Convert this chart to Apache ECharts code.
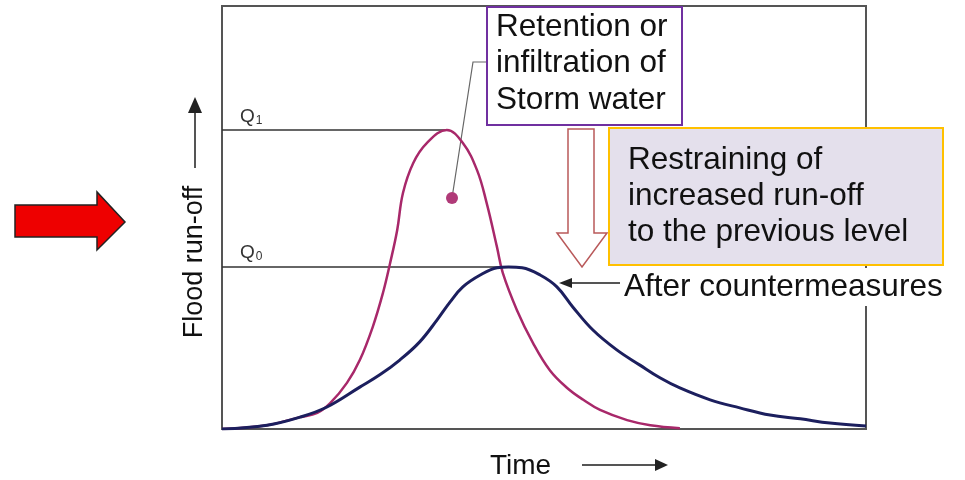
<!DOCTYPE html>
<html>
<head>
<meta charset="utf-8">
<script src="https://cdn.jsdelivr.net/npm/echarts@6/dist/echarts.min.js"></script>
<style>
html,body{margin:0;padding:0;background:#fff;}
#main{width:965px;height:480px;}
</style>
</head>
<body>
<div id="main"></div>
<script>
// run-off before countermeasures (time %, flow %)
var beforeTime = [0, 7, 12.1, 14.8, 16.8, 19.4, 21.4, 23.4, 25.0, 26.1, 27.2, 28.1, 29.7, 31.8, 34.9, 37.4, 39.6, 41.1, 42.7, 43.6, 45.8, 48.3, 50.9, 53.6, 56.1, 58.7, 62.9, 66.5, 71.1];
var beforeFlow = [0, 0.9, 2.8, 3.8, 6.1, 10.9, 16.3, 24.1, 32.2, 39.2, 47.0, 55.8, 62.9, 67.6, 70.7, 67.6, 61.2, 53.4, 43.0, 36.9, 28.1, 20.3, 13.9, 9.7, 6.9, 4.5, 2.1, 0.9, 0.2];
// run-off after countermeasures
var afterTime = [0, 7, 12.1, 16.3, 21.4, 24.5, 27.6, 30.7, 33.4, 35.4, 37.4, 40.1, 42.7, 44.5, 46.6, 49.4, 52.0, 54.5, 57.6, 61.3, 64.9, 68.0, 71.1, 75.8, 80.4, 85.1, 89.8, 94.4, 100];
var afterFlow = [0, 0.9, 2.8, 5.2, 9.9, 12.8, 16.3, 20.6, 25.8, 30.0, 33.6, 36.4, 38.1, 38.3, 38.1, 36.4, 33.6, 28.8, 23.4, 18.7, 15.1, 12.1, 9.7, 6.9, 5.0, 3.3, 2.4, 1.4, 0.7];
// peak levels
var q1 = 70.7, q1Time = 34.9;
var q0 = 38.3, q0Time = 44.5;

function pairs(xs, ys) {
	var out = [];
	for (var i = 0; i < xs.length; i++) out.push([xs[i], ys[i]]);
	return out;
}

var font = '"Liberation Sans", Arial, sans-serif';
var myChart = echarts.init(document.getElementById('main'));

var option = {
	backgroundColor: '#fff',
	animation: false,
	grid: {
		left: 222, right: 99, top: 6, bottom: 51,
		show: true,
		borderColor: '#555',
		borderWidth: 2,
		backgroundColor: 'transparent'
	},
	xAxis: {
		type: 'value', min: 0, max: 100,
		axisLine: {show: false}, axisTick: {show: false},
		axisLabel: {show: false}, splitLine: {show: false}
	},
	yAxis: {
		type: 'value', min: 0, max: 100,
		axisLine: {show: false}, axisTick: {show: false},
		axisLabel: {show: false}, splitLine: {show: false}
	},
	series: [
		{
			name: 'Q1', type: 'line', symbol: 'none',
			lineStyle: {color: '#333', width: 1.5},
			data: [[0, q1], [q1Time, q1]]
		},
		{
			name: 'Q0', type: 'line', symbol: 'none',
			lineStyle: {color: '#333', width: 1.5},
			data: [[0, q0], [q0Time, q0]]
		},
		{
			name: 'before', type: 'line', symbol: 'none',
			smooth: 0.4,
			lineStyle: {color: '#a8286a', width: 2.5},
			data: pairs(beforeTime, beforeFlow)
		},
		{
			name: 'after', type: 'line', symbol: 'none',
			smooth: 0.4,
			lineStyle: {color: '#1c1f5e', width: 3},
			data: pairs(afterTime, afterFlow)
		}
	],
	graphic: [
		// red arrow on the left
		{type: 'polygon', shape: {points: [[15,205],[97,205],[97,192],[125,222],[97,250],[97,237],[15,237]]},
			style: {fill: '#ee0000', stroke: '#222', lineWidth: 1.5}},
		// y axis title + arrow
		{type: 'text', x: 195, y: 262, rotation: Math.PI / 2,
			style: {text: 'Flood run-off', font: '27px ' + font, fill: '#111', align: 'center', verticalAlign: 'middle'}},
		{type: 'line', shape: {x1: 195, y1: 168, x2: 195, y2: 110}, style: {stroke: '#555', lineWidth: 2}},
		{type: 'polygon', shape: {points: [[188,113],[195,97],[202,113]]}, style: {fill: '#222'}},
		// x axis title + arrow
		{type: 'text', x: 490, y: 466,
			style: {text: 'Time', font: '28px ' + font, fill: '#111', align: 'left', verticalAlign: 'middle'}},
		{type: 'line', shape: {x1: 582, y1: 465, x2: 658, y2: 465}, style: {stroke: '#555', lineWidth: 2}},
		{type: 'polygon', shape: {points: [[655,459],[668,465],[655,471]]}, style: {fill: '#222'}},
		// Q labels
		{type: 'text', x: 240, y: 127,
			style: {text: '{q|Q}{s|1}', verticalAlign: 'bottom',
				rich: {q: {font: '19px ' + font, fill: '#333'}, s: {font: '12px ' + font, fill: '#333', padding: [8, 0, 0, 1]}}}},
		{type: 'text', x: 240, y: 263,
			style: {text: '{q|Q}{s|0}', verticalAlign: 'bottom',
				rich: {q: {font: '19px ' + font, fill: '#333'}, s: {font: '12px ' + font, fill: '#333', padding: [8, 0, 0, 1]}}}},
		// leader from retention box to dot
		{type: 'polyline', shape: {points: [[452,198],[473,62],[487,62]]}, style: {stroke: '#666', lineWidth: 1.2, fill: null}},
		{type: 'circle', shape: {cx: 452, cy: 198, r: 6}, style: {fill: '#b03a78'}},
		// retention box
		{type: 'rect', shape: {x: 487, y: 7, width: 195, height: 118}, style: {fill: '#fff', stroke: '#7030a0', lineWidth: 2}},
		{type: 'text', x: 496, y: 9,
			style: {text: 'Retention or\ninfiltration of\nStorm water', font: '31.5px ' + font, lineHeight: 36.5, fill: '#111'}},
		// hollow arrow
		{type: 'polygon', shape: {points: [[568,129],[594,129],[594,233],[607,233],[582,267],[557,233],[568,233]]},
			style: {fill: '#fff', stroke: '#b9595a', lineWidth: 1.5}},
		// restraining box
		{type: 'rect', shape: {x: 609, y: 128, width: 334, height: 137}, style: {fill: '#e4e0ec', stroke: '#ffc000', lineWidth: 2}},
		{type: 'text', x: 628, y: 142,
			style: {text: 'Restraining of\nincreased run-off\nto the previous level', font: '31.5px ' + font, lineHeight: 36, fill: '#111'}},
		// after countermeasures label
		{type: 'rect', shape: {x: 622, y: 268, width: 336, height: 38}, style: {fill: '#fff'}},
		{type: 'text', x: 624, y: 287,
			style: {text: 'After countermeasures', font: '31.5px ' + font, fill: '#111', verticalAlign: 'middle'}},
		{type: 'line', shape: {x1: 620, y1: 283, x2: 570, y2: 283}, style: {stroke: '#555', lineWidth: 2}},
		{type: 'polygon', shape: {points: [[572,278],[559,283],[572,288]]}, style: {fill: '#222'}}
	]
};
myChart.setOption(option);
</script>
</body>
</html>
